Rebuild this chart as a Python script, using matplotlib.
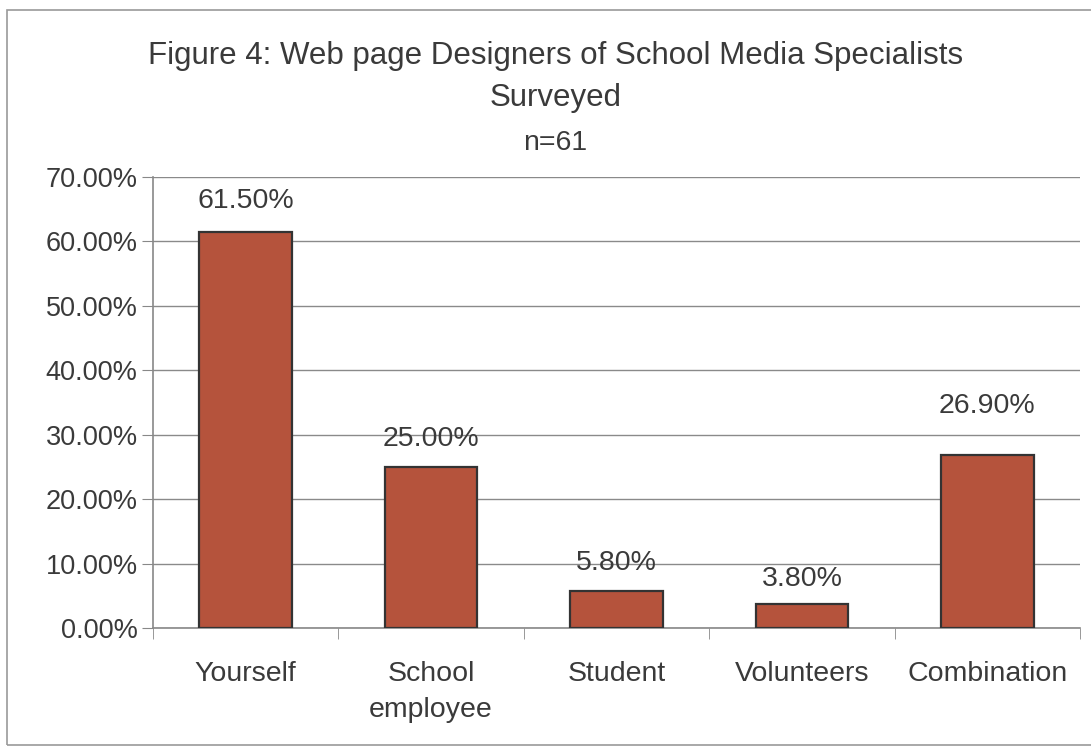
import matplotlib.pyplot as plt
import matplotlib as mpl
import numpy as np

categories = ['Yourself', 'School\nemployee', 'Student', 'Volunteers', 'Combination']
values = [61.5, 25.0, 5.8, 3.8, 26.9]
value_labels = ['61.50%', '25.00%', '5.80%', '3.80%', '26.90%']
label_offsets = [22, 20, 20, 18, 35]  # points above bar top
yticks = [0, 10, 20, 30, 40, 50, 60, 70]

plt.rcParams['font.family'] = ['Liberation Sans', 'DejaVu Sans']
text_color = '#3a3a3a'

fig = plt.figure(figsize=(10.91, 7.51), dpi=100)
ax = fig.add_axes([0.1402, 0.1638, 0.8497, 0.6005])

# outer border of chart area
fig.patches.append(mpl.patches.Rectangle((0.0064, 0.008), 1.0, 0.979, transform=fig.transFigure,
                                         fill=False, edgecolor='#9a9a9a', linewidth=1.2))

x = np.arange(len(categories))
ax.bar(x, values, width=0.5, color='#b5533c', edgecolor='#333333', linewidth=1.6, zorder=3)

for xi, v, lab, off in zip(x, values, value_labels, label_offsets):
    ax.annotate(lab, (xi, v), xytext=(0, off), textcoords='offset points',
                ha='center', va='center', fontsize=20.5, color=text_color)

ax.set_xlim(-0.5, len(categories) - 0.5)
ax.set_ylim(0, 70)
ax.set_yticks(yticks)
ax.set_yticklabels(['%.2f%%' % t for t in yticks], fontsize=19.5, color=text_color)
ax.yaxis.grid(True, color='#8a8a8a', linewidth=1.0, zorder=0)

ax.set_xticks(x)
ax.set_xticklabels(categories, fontsize=20.5, color=text_color, linespacing=1.5, va='top')
ax.tick_params(axis='x', length=0, pad=24)
ax.set_xticks(np.arange(-0.5, len(categories)), minor=True)
ax.tick_params(axis='x', which='minor', length=8, color='#888888', direction='out')
ax.tick_params(axis='y', length=8, color='#888888', direction='out', pad=3)

for s in ['top', 'right']:
    ax.spines[s].set_visible(False)
for s in ['left', 'bottom']:
    ax.spines[s].set_color('#888888')
    ax.spines[s].set_linewidth(1.2)

fig.text(0.509, 0.926, 'Figure 4: Web page Designers of School Media Specialists',
         ha='center', va='center', fontsize=22.5, color=text_color)
fig.text(0.509, 0.870, 'Surveyed', ha='center', va='center', fontsize=22.5, color=text_color)
fig.text(0.509, 0.810, 'n=61', ha='center', va='center', fontsize=20.5, color=text_color)

fig.savefig('out.png', dpi=100)
